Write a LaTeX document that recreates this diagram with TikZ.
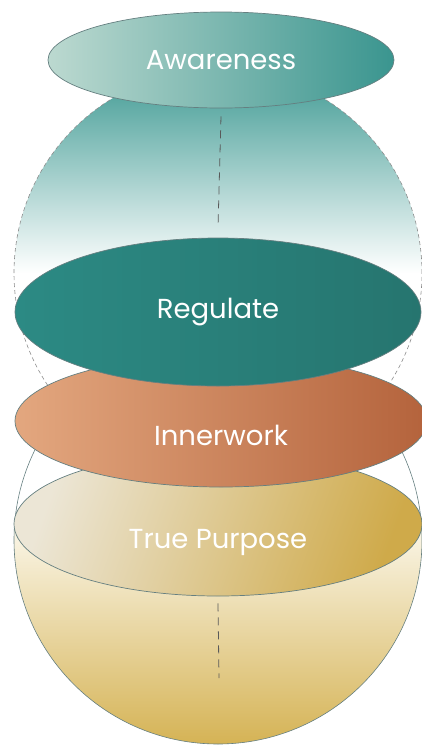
\documentclass[tikz,border=0pt]{standalone}
\usepackage{fontspec}
\setmainfont{Poppins}
\usetikzlibrary{shapes.geometric}
\definecolor{edgegray}{HTML}{657F80}
\definecolor{domeTeal}{HTML}{3F9A93}
\definecolor{awareL}{HTML}{BCD9D0}
\definecolor{awareR}{HTML}{3A958F}
\definecolor{regL}{HTML}{2C8A84}
\definecolor{regR}{HTML}{26756F}
\definecolor{innerL}{HTML}{E3A77F}
\definecolor{innerR}{HTML}{B4633C}
\definecolor{purposeL}{HTML}{ECE6D6}
\definecolor{purposeR}{HTML}{CFAA4A}
\definecolor{baseTop}{HTML}{FBF7EA}
\definecolor{baseBot}{HTML}{D5B355}
\tikzset{
  layer/.style={ellipse, draw=edgegray, line width=0.7pt, inner sep=0pt,
    text=white, font=\fontsize{27.5}{32}\selectfont},
  lowtext/.style={text height=49pt, text depth=0pt},
  axisline/.style={draw=black!65, line width=0.8pt, dash pattern=on 8pt off 6pt},
}
\begin{document}
\begin{tikzpicture}[x=1pt,y=-1pt]
\useasboundingbox (0,0) rectangle (422,748);
\begin{scope}
\clip (218,273) circle (204pt);
\shade[top color=domeTeal, bottom color=white] (0,69) rectangle (422,273);
\end{scope}
\begin{scope}
\clip (218,540) circle (204pt);
\shade[top color=baseTop, bottom color=baseBot] (0,524) rectangle (422,744);
\end{scope}
\draw[black!45, line width=0.6pt, dash pattern=on 4pt off 3pt] (218,273) circle (204pt);
\draw[edgegray, line width=0.6pt] (218,540) circle (204pt);

\node[layer, lowtext, minimum width=408pt, minimum height=144pt, left color=purposeL, right color=purposeR, shading angle=70] (purpose) at (218,524) {True Purpose};
\node[layer, lowtext, minimum width=412pt, minimum height=132pt, left color=innerL, right color=innerR] (inner) at (221,421) {Innerwork};
\node[layer, minimum width=406pt, minimum height=148pt, left color=regL, right color=regR] (reg) at (218,312) {Regulate};
\node[layer, minimum width=346pt, minimum height=96pt, left color=awareL, right color=awareR] (aware) at (221,60) {Awareness};

\coordinate (core) at (219,678);
\draw[axisline] ([yshift=-8pt]aware.south) -- ([yshift=10pt]reg.north);
\draw[axisline] ([yshift=-7pt]purpose.south) -- (core);
\end{tikzpicture}
\end{document}
